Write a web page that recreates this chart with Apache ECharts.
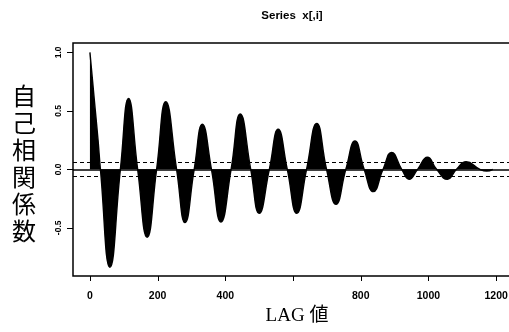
<!DOCTYPE html>
<html>
<head>
<meta charset="utf-8">
<script src="https://cdn.jsdelivr.net/npm/echarts@6/dist/echarts.min.js"></script>
<style>html,body{margin:0;padding:0;background:#fff;overflow:hidden;}#c{width:509px;height:332px;}</style>
</head>
<body>
<div id="c"></div>
<script>
// Key points: lag positions and ACF values (peaks, troughs, zero crossings)
const lags = [0, 8, 16, 24, 31, 59, 90, 114, 141, 169, 197, 224, 256, 281, 308, 332, 359, 387, 417, 444, 475, 500, 530, 556, 583, 611, 640, 670, 699, 727, 756, 783, 810, 837, 866, 891, 921, 943, 968, 997, 1024, 1056, 1083, 1111, 1152, 1172, 1190];
const acf  = [1.0, 0.75, 0.5, 0.25, 0, -0.838, 0, 0.607, 0, -0.581, 0, 0.578, 0, -0.456, 0, 0.385, 0, -0.45, 0, 0.473, 0, -0.376, 0, 0.342, 0, -0.376, 0, 0.393, 0, -0.299, 0, 0.242, 0, -0.191, 0, 0.145, 0, -0.085, 0, 0.103, 0, -0.085, 0, 0.065, 0, -0.015, 0];
const confBound = 0.057;
const xTicks = [0, 200, 400, 600, 800, 1000, 1200];
const xLabels = [0, 200, 400, 800, 1000, 1200];   // 600 has a tick but no label
const yTicks = [-0.5, 0, 0.5, 1.0];

// plot box (data range with R-style padding)
const X_MIN = -50, X_MAX = 1300, Y_MIN = -0.912, Y_MAX = 1.08;
const BOX = {left: 73, top: 43, width: 457, height: 233};
const T_X0 = 0, T_X1 = 1200, T_Y0 = -0.5, T_Y1 = 1.0;
const sx = BOX.width / (X_MAX - X_MIN), sy = BOX.height / (Y_MAX - Y_MIN);
const TX_LEN = 5, TY_LEN = 6;
// thin strips outside the box that carry the tick labels
const gX = {left: BOX.left + (T_X0 - X_MIN) * sx, width: (T_X1 - T_X0) * sx, top: BOX.top + BOX.height, height: TX_LEN};
const gY = {left: BOX.left - TY_LEN, width: TY_LEN, top: BOX.top + (Y_MAX - T_Y1) * sy, height: (T_Y1 - T_Y0) * sy};

const chart = echarts.init(document.getElementById('c'), null, {renderer: 'canvas'});
const data = lags.map((l, i) => [l, acf[i]]);
const xFont = {fontFamily: 'Liberation Sans', fontWeight: 'bold', fontSize: 10.5, color: '#000'};
const yFont = {fontFamily: 'Liberation Sans', fontWeight: 'bold', fontSize: 8.5, color: '#000'};
const base = {outerBoundsMode: 'none', containLabel: false};

chart.setOption({
  animation: false,
  backgroundColor: '#fff',
  grid: [
    Object.assign({show: true, borderColor: '#000', borderWidth: 1.5, backgroundColor: 'transparent'}, base, BOX),
    Object.assign({show: false}, base, gX),
    Object.assign({show: false}, base, gY)
  ],
  xAxis: [{
    gridIndex: 0, type: 'value', min: X_MIN, max: X_MAX,
    axisLine: {show: false, onZero: false}, splitLine: {show: false}, axisTick: {show: false}, axisLabel: {show: false}
  }, {
    gridIndex: 1, type: 'value', min: T_X0, max: T_X1, interval: 200, position: 'bottom',
    axisLine: {show: false, onZero: false}, axisTick: {show: false}, splitLine: {show: false},
    axisLabel: Object.assign({margin: 10, formatter: v => (xLabels.indexOf(v) >= 0 ? String(v) : '')}, xFont)
  }, {
    gridIndex: 2, type: 'value', min: 0, max: 1, show: false
  }],
  yAxis: [{
    gridIndex: 0, type: 'value', min: Y_MIN, max: Y_MAX,
    axisLine: {show: false, onZero: false}, splitLine: {show: false}, axisTick: {show: false}, axisLabel: {show: false}
  }, {
    gridIndex: 1, type: 'value', min: 0, max: 1, show: false
  }, {
    gridIndex: 2, type: 'value', min: T_Y0, max: T_Y1, interval: 0.5, position: 'left',
    axisLine: {show: false, onZero: false}, axisTick: {show: false}, splitLine: {show: false},
    axisLabel: Object.assign({margin: 4, rotate: 90, formatter: v => v.toFixed(1)}, yFont)
  }],
  series: [{
    type: 'line', xAxisIndex: 0, yAxisIndex: 0,
    data: data,
    smooth: 0.5,
    showSymbol: false,
    lineStyle: {color: '#000', width: 1.4},
    areaStyle: {color: '#000', opacity: 1},
    markLine: {
      silent: true, symbol: 'none', label: {show: false},
      data: [
        {yAxis: 0, lineStyle: {type: 'solid', color: '#000', width: 1.5}},
        {yAxis: confBound, lineStyle: {type: [4, 3], color: '#000', width: 1}},
        {yAxis: -confBound, lineStyle: {type: [4, 3], color: '#000', width: 1}}
      ]
    }
  }, {
    // x tick marks hanging below the box, positioned through the data axis
    type: 'custom', xAxisIndex: 0, yAxisIndex: 0, clip: false, silent: true, z: 5,
    data: xTicks.map(v => [v]),
    renderItem: function (params, api) {
      const p = api.coord([api.value(0), Y_MIN]);
      const x = Math.round(p[0]) + 0.5;
      return {type: 'line', shape: {x1: x, y1: p[1], x2: x, y2: p[1] + TX_LEN}, style: {stroke: '#000', lineWidth: 1}};
    }
  }, {
    // y tick marks to the left of the box
    type: 'custom', xAxisIndex: 0, yAxisIndex: 0, clip: false, silent: true, z: 5,
    data: yTicks.map(v => [X_MIN, v]),
    renderItem: function (params, api) {
      const p = api.coord([X_MIN, api.value(1)]);
      const y = Math.round(p[1]) + 0.5;
      return {type: 'line', shape: {x1: p[0] - TY_LEN, y1: y, x2: p[0], y2: y}, style: {stroke: '#000', lineWidth: 1}};
    }
  }],
  graphic: [
    {type: 'text', x: 292, y: 10, style: {text: 'Series  x[,i]', font: 'bold 11.5px "Liberation Sans"', fill: '#000', align: 'center'}},
    {type: 'text', x: 24, y: 82, style: {text: '自\n己\n相\n関\n係\n数', fontFamily: 'Noto Sans CJK JP', fontSize: 24, lineHeight: 27, fill: '#000', align: 'center'}},
    {type: 'text', x: 297, y: 307, style: {text: 'LAG 値', fontFamily: '"Liberation Serif", "Noto Sans CJK JP"', fontSize: 19, fill: '#000', align: 'center'}}
  ]
});
</script>
</body>
</html>
